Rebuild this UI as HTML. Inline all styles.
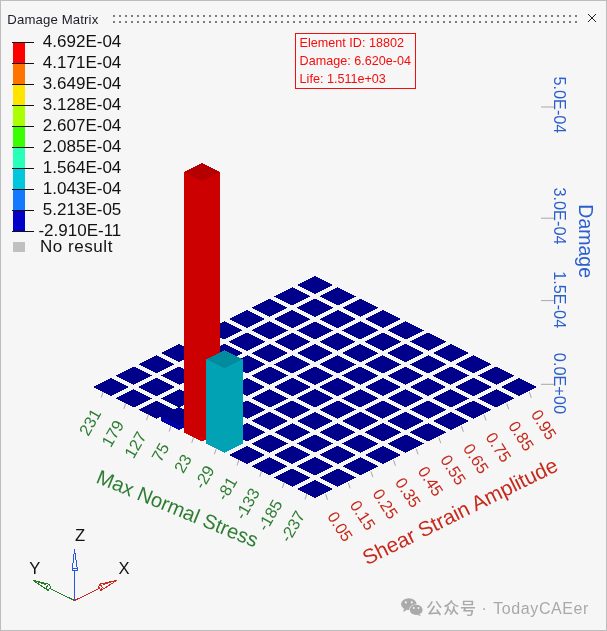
<!DOCTYPE html>
<html><head><meta charset="utf-8"><title>Damage Matrix</title>
<style>
html,body{margin:0;padding:0;background:#f6f6f6;}
body{width:607px;height:631px;overflow:hidden;position:relative;font-family:"Liberation Sans","Noto Sans CJK SC",sans-serif;}
svg{position:absolute;left:0;top:0;display:block;}
svg text{font-family:"Liberation Sans","Noto Sans CJK SC",sans-serif;}
.tk{font-size:16.4px;}
.zt{font-size:16.3px;}
.lg{font-size:17px;fill:#111;}
.nr{letter-spacing:0.55px;}
.tt{font-size:13.2px;fill:#1c1c2a;letter-spacing:0.13px;}
.tip{font-size:12.6px;fill:#f60c0c;}
.ax{font-size:16.6px;fill:#111;}
.wm{font-size:16px;fill:#a9a9a9;letter-spacing:0.35px;}
</style></head><body>
<svg width="607" height="631" viewBox="0 0 607 631">
<rect x="0" y="0" width="607" height="631" fill="#f6f6f6"/>
<rect x="0.5" y="0.5" width="606" height="630" fill="none" stroke="#bdbdbd" stroke-width="1"/>
<text class="tt" x="7.3" y="23.6">Damage Matrix</text>
<g fill="#7d7d7d" shape-rendering="crispEdges"><rect x="113" y="15" width="2" height="2"/><rect x="113" y="21" width="2" height="2"/><rect x="119" y="15" width="2" height="2"/><rect x="119" y="21" width="2" height="2"/><rect x="125" y="15" width="2" height="2"/><rect x="125" y="21" width="2" height="2"/><rect x="131" y="15" width="2" height="2"/><rect x="131" y="21" width="2" height="2"/><rect x="137" y="15" width="2" height="2"/><rect x="137" y="21" width="2" height="2"/><rect x="143" y="15" width="2" height="2"/><rect x="143" y="21" width="2" height="2"/><rect x="149" y="15" width="2" height="2"/><rect x="149" y="21" width="2" height="2"/><rect x="155" y="15" width="2" height="2"/><rect x="155" y="21" width="2" height="2"/><rect x="161" y="15" width="2" height="2"/><rect x="161" y="21" width="2" height="2"/><rect x="167" y="15" width="2" height="2"/><rect x="167" y="21" width="2" height="2"/><rect x="173" y="15" width="2" height="2"/><rect x="173" y="21" width="2" height="2"/><rect x="179" y="15" width="2" height="2"/><rect x="179" y="21" width="2" height="2"/><rect x="185" y="15" width="2" height="2"/><rect x="185" y="21" width="2" height="2"/><rect x="191" y="15" width="2" height="2"/><rect x="191" y="21" width="2" height="2"/><rect x="197" y="15" width="2" height="2"/><rect x="197" y="21" width="2" height="2"/><rect x="203" y="15" width="2" height="2"/><rect x="203" y="21" width="2" height="2"/><rect x="209" y="15" width="2" height="2"/><rect x="209" y="21" width="2" height="2"/><rect x="215" y="15" width="2" height="2"/><rect x="215" y="21" width="2" height="2"/><rect x="221" y="15" width="2" height="2"/><rect x="221" y="21" width="2" height="2"/><rect x="227" y="15" width="2" height="2"/><rect x="227" y="21" width="2" height="2"/><rect x="233" y="15" width="2" height="2"/><rect x="233" y="21" width="2" height="2"/><rect x="239" y="15" width="2" height="2"/><rect x="239" y="21" width="2" height="2"/><rect x="245" y="15" width="2" height="2"/><rect x="245" y="21" width="2" height="2"/><rect x="251" y="15" width="2" height="2"/><rect x="251" y="21" width="2" height="2"/><rect x="257" y="15" width="2" height="2"/><rect x="257" y="21" width="2" height="2"/><rect x="263" y="15" width="2" height="2"/><rect x="263" y="21" width="2" height="2"/><rect x="269" y="15" width="2" height="2"/><rect x="269" y="21" width="2" height="2"/><rect x="275" y="15" width="2" height="2"/><rect x="275" y="21" width="2" height="2"/><rect x="281" y="15" width="2" height="2"/><rect x="281" y="21" width="2" height="2"/><rect x="287" y="15" width="2" height="2"/><rect x="287" y="21" width="2" height="2"/><rect x="293" y="15" width="2" height="2"/><rect x="293" y="21" width="2" height="2"/><rect x="299" y="15" width="2" height="2"/><rect x="299" y="21" width="2" height="2"/><rect x="305" y="15" width="2" height="2"/><rect x="305" y="21" width="2" height="2"/><rect x="311" y="15" width="2" height="2"/><rect x="311" y="21" width="2" height="2"/><rect x="317" y="15" width="2" height="2"/><rect x="317" y="21" width="2" height="2"/><rect x="323" y="15" width="2" height="2"/><rect x="323" y="21" width="2" height="2"/><rect x="329" y="15" width="2" height="2"/><rect x="329" y="21" width="2" height="2"/><rect x="335" y="15" width="2" height="2"/><rect x="335" y="21" width="2" height="2"/><rect x="341" y="15" width="2" height="2"/><rect x="341" y="21" width="2" height="2"/><rect x="347" y="15" width="2" height="2"/><rect x="347" y="21" width="2" height="2"/><rect x="353" y="15" width="2" height="2"/><rect x="353" y="21" width="2" height="2"/><rect x="359" y="15" width="2" height="2"/><rect x="359" y="21" width="2" height="2"/><rect x="365" y="15" width="2" height="2"/><rect x="365" y="21" width="2" height="2"/><rect x="371" y="15" width="2" height="2"/><rect x="371" y="21" width="2" height="2"/><rect x="377" y="15" width="2" height="2"/><rect x="377" y="21" width="2" height="2"/><rect x="383" y="15" width="2" height="2"/><rect x="383" y="21" width="2" height="2"/><rect x="389" y="15" width="2" height="2"/><rect x="389" y="21" width="2" height="2"/><rect x="395" y="15" width="2" height="2"/><rect x="395" y="21" width="2" height="2"/><rect x="401" y="15" width="2" height="2"/><rect x="401" y="21" width="2" height="2"/><rect x="407" y="15" width="2" height="2"/><rect x="407" y="21" width="2" height="2"/><rect x="413" y="15" width="2" height="2"/><rect x="413" y="21" width="2" height="2"/><rect x="419" y="15" width="2" height="2"/><rect x="419" y="21" width="2" height="2"/><rect x="425" y="15" width="2" height="2"/><rect x="425" y="21" width="2" height="2"/><rect x="431" y="15" width="2" height="2"/><rect x="431" y="21" width="2" height="2"/><rect x="437" y="15" width="2" height="2"/><rect x="437" y="21" width="2" height="2"/><rect x="443" y="15" width="2" height="2"/><rect x="443" y="21" width="2" height="2"/><rect x="449" y="15" width="2" height="2"/><rect x="449" y="21" width="2" height="2"/><rect x="455" y="15" width="2" height="2"/><rect x="455" y="21" width="2" height="2"/><rect x="461" y="15" width="2" height="2"/><rect x="461" y="21" width="2" height="2"/><rect x="467" y="15" width="2" height="2"/><rect x="467" y="21" width="2" height="2"/><rect x="473" y="15" width="2" height="2"/><rect x="473" y="21" width="2" height="2"/><rect x="479" y="15" width="2" height="2"/><rect x="479" y="21" width="2" height="2"/><rect x="485" y="15" width="2" height="2"/><rect x="485" y="21" width="2" height="2"/><rect x="491" y="15" width="2" height="2"/><rect x="491" y="21" width="2" height="2"/><rect x="497" y="15" width="2" height="2"/><rect x="497" y="21" width="2" height="2"/><rect x="503" y="15" width="2" height="2"/><rect x="503" y="21" width="2" height="2"/><rect x="509" y="15" width="2" height="2"/><rect x="509" y="21" width="2" height="2"/><rect x="515" y="15" width="2" height="2"/><rect x="515" y="21" width="2" height="2"/><rect x="521" y="15" width="2" height="2"/><rect x="521" y="21" width="2" height="2"/><rect x="527" y="15" width="2" height="2"/><rect x="527" y="21" width="2" height="2"/><rect x="533" y="15" width="2" height="2"/><rect x="533" y="21" width="2" height="2"/><rect x="539" y="15" width="2" height="2"/><rect x="539" y="21" width="2" height="2"/><rect x="545" y="15" width="2" height="2"/><rect x="545" y="21" width="2" height="2"/><rect x="551" y="15" width="2" height="2"/><rect x="551" y="21" width="2" height="2"/><rect x="557" y="15" width="2" height="2"/><rect x="557" y="21" width="2" height="2"/><rect x="563" y="15" width="2" height="2"/><rect x="563" y="21" width="2" height="2"/><rect x="569" y="15" width="2" height="2"/><rect x="569" y="21" width="2" height="2"/><rect x="575" y="15" width="2" height="2"/><rect x="575" y="21" width="2" height="2"/></g>
<path d="M588 14 L596 22 M596 14 L588 22" stroke="#222" stroke-width="1" fill="none"/>
<g shape-rendering="crispEdges">
<rect x="13" y="42.0" width="12" height="21.0" fill="#ff0000"/><rect x="13" y="63.0" width="12" height="21.0" fill="#ff7300"/><rect x="13" y="84.0" width="12" height="21.0" fill="#ffe400"/><rect x="13" y="105.0" width="12" height="21.0" fill="#aaff00"/><rect x="13" y="126.0" width="12" height="21.0" fill="#39ff00"/><rect x="13" y="147.0" width="12" height="21.0" fill="#28ffb9"/><rect x="13" y="168.0" width="12" height="21.0" fill="#00c7dd"/><rect x="13" y="189.0" width="12" height="21.0" fill="#1579ff"/><rect x="13" y="210.0" width="12" height="21.0" fill="#0000c8"/>
</g>
<g>
<rect x="12" y="42.0" width="22" height="1" fill="#111"/><text class="lg" x="121.3" y="46.6" text-anchor="end">4.692E-04</text><rect x="12" y="63.0" width="22" height="1" fill="#111"/><text class="lg" x="121.3" y="67.6" text-anchor="end">4.171E-04</text><rect x="12" y="84.0" width="22" height="1" fill="#111"/><text class="lg" x="121.3" y="88.6" text-anchor="end">3.649E-04</text><rect x="12" y="105.0" width="22" height="1" fill="#111"/><text class="lg" x="121.3" y="109.6" text-anchor="end">3.128E-04</text><rect x="12" y="126.0" width="22" height="1" fill="#111"/><text class="lg" x="121.3" y="130.6" text-anchor="end">2.607E-04</text><rect x="12" y="147.0" width="22" height="1" fill="#111"/><text class="lg" x="121.3" y="151.6" text-anchor="end">2.085E-04</text><rect x="12" y="168.0" width="22" height="1" fill="#111"/><text class="lg" x="121.3" y="172.6" text-anchor="end">1.564E-04</text><rect x="12" y="189.0" width="22" height="1" fill="#111"/><text class="lg" x="121.3" y="193.6" text-anchor="end">1.043E-04</text><rect x="12" y="210.0" width="22" height="1" fill="#111"/><text class="lg" x="121.3" y="214.6" text-anchor="end">5.213E-05</text><rect x="12" y="231.0" width="22" height="1" fill="#111"/><text class="lg" x="121.3" y="235.6" text-anchor="end">-2.910E-11</text><rect x="13" y="242" width="12" height="10" fill="#c0c0c0"/><text class="lg nr" x="40" y="251.8">No result</text>
</g>
<g shape-rendering="crispEdges">
<polygon points="296.77,285.11 315.00,294.23 333.23,285.11 315.00,276.00" fill="#00008b"/>
<polygon points="274.13,296.43 292.36,305.55 310.58,296.43 292.36,287.32" fill="#00008b"/>
<polygon points="319.42,296.43 337.64,305.55 355.87,296.43 337.64,287.32" fill="#00008b"/>
<polygon points="251.49,307.75 269.72,316.87 287.94,307.75 269.72,298.64" fill="#00008b"/>
<polygon points="296.77,307.75 315.00,316.87 333.23,307.75 315.00,298.64" fill="#00008b"/>
<polygon points="342.06,307.75 360.28,316.87 378.51,307.75 360.28,298.64" fill="#00008b"/>
<polygon points="228.85,319.08 247.08,328.19 265.30,319.08 247.08,309.96" fill="#00008b"/>
<polygon points="274.13,319.08 292.36,328.19 310.58,319.08 292.36,309.96" fill="#00008b"/>
<polygon points="319.42,319.08 337.64,328.19 355.87,319.08 337.64,309.96" fill="#00008b"/>
<polygon points="364.70,319.08 382.92,328.19 401.15,319.08 382.92,309.96" fill="#00008b"/>
<polygon points="206.21,330.40 224.43,339.51 242.66,330.40 224.43,321.28" fill="#00008b"/>
<polygon points="251.49,330.40 269.72,339.51 287.94,330.40 269.72,321.28" fill="#00008b"/>
<polygon points="296.77,330.40 315.00,339.51 333.23,330.40 315.00,321.28" fill="#00008b"/>
<polygon points="342.06,330.40 360.28,339.51 378.51,330.40 360.28,321.28" fill="#00008b"/>
<polygon points="387.34,330.40 405.57,339.51 423.79,330.40 405.57,321.28" fill="#00008b"/>
<polygon points="183.57,341.72 201.79,350.83 220.02,341.72 201.79,332.60" fill="#00008b"/>
<polygon points="228.85,341.72 247.08,350.83 265.30,341.72 247.08,332.60" fill="#00008b"/>
<polygon points="274.13,341.72 292.36,350.83 310.58,341.72 292.36,332.60" fill="#00008b"/>
<polygon points="319.42,341.72 337.64,350.83 355.87,341.72 337.64,332.60" fill="#00008b"/>
<polygon points="364.70,341.72 382.92,350.83 401.15,341.72 382.92,332.60" fill="#00008b"/>
<polygon points="409.98,341.72 428.21,350.83 446.43,341.72 428.21,332.60" fill="#00008b"/>
<polygon points="160.92,353.04 179.15,362.15 197.38,353.04 179.15,343.92" fill="#00008b"/>
<polygon points="206.21,353.04 224.43,362.15 242.66,353.04 224.43,343.92" fill="#00008b"/>
<polygon points="251.49,353.04 269.72,362.15 287.94,353.04 269.72,343.92" fill="#00008b"/>
<polygon points="296.77,353.04 315.00,362.15 333.23,353.04 315.00,343.92" fill="#00008b"/>
<polygon points="342.06,353.04 360.28,362.15 378.51,353.04 360.28,343.92" fill="#00008b"/>
<polygon points="387.34,353.04 405.57,362.15 423.79,353.04 405.57,343.92" fill="#00008b"/>
<polygon points="432.62,353.04 450.85,362.15 469.08,353.04 450.85,343.92" fill="#00008b"/>
<polygon points="138.28,364.36 156.51,373.47 174.74,364.36 156.51,355.25" fill="#00008b"/>
<polygon points="183.57,364.36 201.79,373.47 220.02,364.36 201.79,355.25" fill="#00008b"/>
<polygon points="228.85,364.36 247.08,373.47 265.30,364.36 247.08,355.25" fill="#00008b"/>
<polygon points="274.13,364.36 292.36,373.47 310.58,364.36 292.36,355.25" fill="#00008b"/>
<polygon points="319.42,364.36 337.64,373.47 355.87,364.36 337.64,355.25" fill="#00008b"/>
<polygon points="364.70,364.36 382.92,373.47 401.15,364.36 382.92,355.25" fill="#00008b"/>
<polygon points="409.98,364.36 428.21,373.47 446.43,364.36 428.21,355.25" fill="#00008b"/>
<polygon points="455.26,364.36 473.49,373.47 491.72,364.36 473.49,355.25" fill="#00008b"/>
<polygon points="115.64,375.68 133.87,384.79 152.09,375.68 133.87,366.57" fill="#00008b"/>
<polygon points="160.92,375.68 179.15,384.79 197.38,375.68 179.15,366.57" fill="#00008b"/>
<polygon points="206.21,375.68 224.43,384.79 242.66,375.68 224.43,366.57" fill="#00008b"/>
<polygon points="251.49,375.68 269.72,384.79 287.94,375.68 269.72,366.57" fill="#00008b"/>
<polygon points="296.77,375.68 315.00,384.79 333.23,375.68 315.00,366.57" fill="#00008b"/>
<polygon points="342.06,375.68 360.28,384.79 378.51,375.68 360.28,366.57" fill="#00008b"/>
<polygon points="387.34,375.68 405.57,384.79 423.79,375.68 405.57,366.57" fill="#00008b"/>
<polygon points="432.62,375.68 450.85,384.79 469.08,375.68 450.85,366.57" fill="#00008b"/>
<polygon points="477.91,375.68 496.13,384.79 514.36,375.68 496.13,366.57" fill="#00008b"/>
<polygon points="93.00,387.00 111.23,396.11 129.45,387.00 111.23,377.89" fill="#00008b"/>
<polygon points="138.28,387.00 156.51,396.11 174.74,387.00 156.51,377.89" fill="#00008b"/>
<polygon points="183.57,387.00 201.79,396.11 220.02,387.00 201.79,377.89" fill="#00008b"/>
<polygon points="228.85,387.00 247.08,396.11 265.30,387.00 247.08,377.89" fill="#00008b"/>
<polygon points="274.13,387.00 292.36,396.11 310.58,387.00 292.36,377.89" fill="#00008b"/>
<polygon points="319.42,387.00 337.64,396.11 355.87,387.00 337.64,377.89" fill="#00008b"/>
<polygon points="364.70,387.00 382.92,396.11 401.15,387.00 382.92,377.89" fill="#00008b"/>
<polygon points="409.98,387.00 428.21,396.11 446.43,387.00 428.21,377.89" fill="#00008b"/>
<polygon points="455.26,387.00 473.49,396.11 491.72,387.00 473.49,377.89" fill="#00008b"/>
<polygon points="500.55,387.00 518.77,396.11 537.00,387.00 518.77,377.89" fill="#00008b"/>
<polygon points="115.64,398.32 133.87,407.43 152.09,398.32 133.87,389.21" fill="#00008b"/>
<polygon points="160.92,398.32 179.15,407.43 197.38,398.32 179.15,389.21" fill="#00008b"/>
<polygon points="206.21,398.32 224.43,407.43 242.66,398.32 224.43,389.21" fill="#00008b"/>
<polygon points="251.49,398.32 269.72,407.43 287.94,398.32 269.72,389.21" fill="#00008b"/>
<polygon points="296.77,398.32 315.00,407.43 333.23,398.32 315.00,389.21" fill="#00008b"/>
<polygon points="342.06,398.32 360.28,407.43 378.51,398.32 360.28,389.21" fill="#00008b"/>
<polygon points="387.34,398.32 405.57,407.43 423.79,398.32 405.57,389.21" fill="#00008b"/>
<polygon points="432.62,398.32 450.85,407.43 469.08,398.32 450.85,389.21" fill="#00008b"/>
<polygon points="477.91,398.32 496.13,407.43 514.36,398.32 496.13,389.21" fill="#00008b"/>
<polygon points="138.28,409.64 156.51,418.75 174.74,409.64 156.51,400.53" fill="#00008b"/>
<polygon points="183.57,409.64 201.79,418.75 220.02,409.64 201.79,400.53" fill="#00008b"/>
<polygon points="228.85,409.64 247.08,418.75 265.30,409.64 247.08,400.53" fill="#00008b"/>
<polygon points="274.13,409.64 292.36,418.75 310.58,409.64 292.36,400.53" fill="#00008b"/>
<polygon points="319.42,409.64 337.64,418.75 355.87,409.64 337.64,400.53" fill="#00008b"/>
<polygon points="364.70,409.64 382.92,418.75 401.15,409.64 382.92,400.53" fill="#00008b"/>
<polygon points="409.98,409.64 428.21,418.75 446.43,409.64 428.21,400.53" fill="#00008b"/>
<polygon points="455.26,409.64 473.49,418.75 491.72,409.64 473.49,400.53" fill="#00008b"/>
<polygon points="160.92,420.96 179.15,430.08 197.38,420.96 197.38,415.96 179.15,406.85 160.92,415.96" fill="#0000aa"/>
<polygon points="160.92,415.96 179.15,425.08 197.38,415.96 179.15,406.85" fill="#00008b"/>
<polygon points="206.21,420.96 224.43,430.08 242.66,420.96 224.43,411.85" fill="#00008b"/>
<polygon points="251.49,420.96 269.72,430.08 287.94,420.96 269.72,411.85" fill="#00008b"/>
<polygon points="296.77,420.96 315.00,430.08 333.23,420.96 315.00,411.85" fill="#00008b"/>
<polygon points="342.06,420.96 360.28,430.08 378.51,420.96 360.28,411.85" fill="#00008b"/>
<polygon points="387.34,420.96 405.57,430.08 423.79,420.96 405.57,411.85" fill="#00008b"/>
<polygon points="432.62,420.96 450.85,430.08 469.08,420.96 450.85,411.85" fill="#00008b"/>
<polygon points="183.57,432.28 201.79,441.40 220.02,432.28 220.02,171.98 201.79,162.87 183.57,171.98" fill="#cc0000"/>
<polygon points="183.57,171.98 201.79,181.10 220.02,171.98 201.79,162.87" fill="#b40000"/>
<polygon points="228.85,432.28 247.08,441.40 265.30,432.28 247.08,423.17" fill="#00008b"/>
<polygon points="274.13,432.28 292.36,441.40 310.58,432.28 292.36,423.17" fill="#00008b"/>
<polygon points="319.42,432.28 337.64,441.40 355.87,432.28 337.64,423.17" fill="#00008b"/>
<polygon points="364.70,432.28 382.92,441.40 401.15,432.28 382.92,423.17" fill="#00008b"/>
<polygon points="409.98,432.28 428.21,441.40 446.43,432.28 428.21,423.17" fill="#00008b"/>
<polygon points="206.21,443.60 224.43,452.72 242.66,443.60 242.66,359.30 224.43,350.19 206.21,359.30" fill="#00a2b4"/>
<polygon points="206.21,359.30 224.43,368.42 242.66,359.30 224.43,350.19" fill="#008c9c"/>
<polygon points="251.49,443.60 269.72,452.72 287.94,443.60 269.72,434.49" fill="#00008b"/>
<polygon points="296.77,443.60 315.00,452.72 333.23,443.60 315.00,434.49" fill="#00008b"/>
<polygon points="342.06,443.60 360.28,452.72 378.51,443.60 360.28,434.49" fill="#00008b"/>
<polygon points="387.34,443.60 405.57,452.72 423.79,443.60 405.57,434.49" fill="#00008b"/>
<polygon points="228.85,454.92 247.08,464.04 265.30,454.92 247.08,445.81" fill="#00008b"/>
<polygon points="274.13,454.92 292.36,464.04 310.58,454.92 292.36,445.81" fill="#00008b"/>
<polygon points="319.42,454.92 337.64,464.04 355.87,454.92 337.64,445.81" fill="#00008b"/>
<polygon points="364.70,454.92 382.92,464.04 401.15,454.92 382.92,445.81" fill="#00008b"/>
<polygon points="251.49,466.25 269.72,475.36 287.94,466.25 269.72,457.13" fill="#00008b"/>
<polygon points="296.77,466.25 315.00,475.36 333.23,466.25 315.00,457.13" fill="#00008b"/>
<polygon points="342.06,466.25 360.28,475.36 378.51,466.25 360.28,457.13" fill="#00008b"/>
<polygon points="274.13,477.57 292.36,486.68 310.58,477.57 292.36,468.45" fill="#00008b"/>
<polygon points="319.42,477.57 337.64,486.68 355.87,477.57 337.64,468.45" fill="#00008b"/>
<polygon points="296.77,488.89 315.00,498.00 333.23,488.89 315.00,479.77" fill="#00008b"/>
</g>
<g stroke="#a8a8a8" stroke-width="1" fill="none">
<line x1="103.11" y1="391.86" x2="101.19" y2="397.56"/><line x1="125.75" y1="403.18" x2="123.83" y2="408.88"/><line x1="148.40" y1="414.50" x2="146.48" y2="420.20"/><line x1="171.04" y1="425.82" x2="169.12" y2="431.52"/><line x1="193.68" y1="437.14" x2="191.76" y2="442.84"/><line x1="216.32" y1="448.46" x2="214.40" y2="454.16"/><line x1="238.96" y1="459.78" x2="237.04" y2="465.48"/><line x1="261.60" y1="471.10" x2="259.68" y2="476.80"/><line x1="284.25" y1="482.42" x2="282.33" y2="488.12"/><line x1="306.89" y1="493.74" x2="304.97" y2="499.44"/><line x1="325.61" y1="494.04" x2="327.53" y2="499.74"/><line x1="348.25" y1="482.72" x2="350.17" y2="488.42"/><line x1="370.90" y1="471.40" x2="372.82" y2="477.10"/><line x1="393.54" y1="460.08" x2="395.46" y2="465.78"/><line x1="416.18" y1="448.76" x2="418.10" y2="454.46"/><line x1="438.82" y1="437.44" x2="440.74" y2="443.14"/><line x1="461.46" y1="426.12" x2="463.38" y2="431.82"/><line x1="484.10" y1="414.80" x2="486.02" y2="420.50"/><line x1="506.75" y1="403.48" x2="508.67" y2="409.18"/><line x1="529.39" y1="392.16" x2="531.31" y2="397.86"/><line x1="541" y1="107.0" x2="555" y2="107.0"/><line x1="541" y1="218.2" x2="555" y2="218.2"/><line x1="541" y1="300.6" x2="555" y2="300.6"/><line x1="541" y1="384.3" x2="555" y2="384.3"/>
</g>
<text class="tk" fill="#2e7d32" text-anchor="end" transform="translate(96.91,410.36) rotate(-60)" y="5.7">231</text>
<text class="tk" fill="#2e7d32" text-anchor="end" transform="translate(119.55,421.68) rotate(-60)" y="5.7">179</text>
<text class="tk" fill="#2e7d32" text-anchor="end" transform="translate(142.20,433.00) rotate(-60)" y="5.7">127</text>
<text class="tk" fill="#2e7d32" text-anchor="end" transform="translate(164.84,444.32) rotate(-60)" y="5.7">75</text>
<text class="tk" fill="#2e7d32" text-anchor="end" transform="translate(187.48,455.64) rotate(-60)" y="5.7">23</text>
<text class="tk" fill="#2e7d32" text-anchor="end" transform="translate(210.12,466.96) rotate(-60)" y="5.7">-29</text>
<text class="tk" fill="#2e7d32" text-anchor="end" transform="translate(232.76,478.28) rotate(-60)" y="5.7">-81</text>
<text class="tk" fill="#2e7d32" text-anchor="end" transform="translate(255.40,489.60) rotate(-60)" y="5.7">-133</text>
<text class="tk" fill="#2e7d32" text-anchor="end" transform="translate(278.05,500.92) rotate(-60)" y="5.7">-185</text>
<text class="tk" fill="#2e7d32" text-anchor="end" transform="translate(300.69,512.24) rotate(-60)" y="5.7">-237</text>
<text class="tk" fill="#c62a1c" transform="translate(331.41,513.11) rotate(57)" y="5.7">0.05</text>
<text class="tk" fill="#c62a1c" transform="translate(354.05,501.79) rotate(57)" y="5.7">0.15</text>
<text class="tk" fill="#c62a1c" transform="translate(376.70,490.47) rotate(57)" y="5.7">0.25</text>
<text class="tk" fill="#c62a1c" transform="translate(399.34,479.15) rotate(57)" y="5.7">0.35</text>
<text class="tk" fill="#c62a1c" transform="translate(421.98,467.83) rotate(57)" y="5.7">0.45</text>
<text class="tk" fill="#c62a1c" transform="translate(444.62,456.51) rotate(57)" y="5.7">0.55</text>
<text class="tk" fill="#c62a1c" transform="translate(467.26,445.19) rotate(57)" y="5.7">0.65</text>
<text class="tk" fill="#c62a1c" transform="translate(489.90,433.87) rotate(57)" y="5.7">0.75</text>
<text class="tk" fill="#c62a1c" transform="translate(512.55,422.55) rotate(57)" y="5.7">0.85</text>
<text class="tk" fill="#c62a1c" transform="translate(535.19,411.23) rotate(57)" y="5.7">0.95</text>
<text class="zt" fill="#2b5fcf" text-anchor="middle" transform="translate(553.5,104.9) rotate(90)">5.0E-04</text>
<text class="zt" fill="#2b5fcf" text-anchor="middle" transform="translate(553.5,216.0) rotate(90)">3.0E-04</text>
<text class="zt" fill="#2b5fcf" text-anchor="middle" transform="translate(553.5,299.7) rotate(90)">1.5E-04</text>
<text class="zt" fill="#2b5fcf" text-anchor="middle" transform="translate(553.5,383.4) rotate(90)">0.0E+00</text>
<text fill="#2b5fcf" font-size="19.5" text-anchor="middle" transform="translate(578.5,241.2) rotate(90)">Damage</text>
<text fill="#2e7d32" font-size="20.3" transform="translate(95,482.2) rotate(22.3)">Max Normal Stress</text>
<text fill="#c62a1c" font-size="21" transform="translate(367,565.5) rotate(-26.4)">Shear Strain Amplitude</text>
<rect x="295.5" y="33.5" width="120" height="55" fill="none" stroke="#f01010" stroke-width="1"/>
<text class="tip" x="299.6" y="46.5">Element ID: 18802</text>
<text class="tip" x="299.6" y="64.6">Damage: 6.620e-04</text>
<text class="tip" x="299.6" y="82.7">Life: 1.511e+03</text>
<!-- triad -->
<g fill="none" stroke-width="1" shape-rendering="crispEdges">
<path d="M74.5 600.5 L74.5 570.5" stroke="#2a55e0"/>
<path d="M74.5 549 L72.5 568 L72.5 570.5 L77 570.5 L77 567 Z M72.5 568 L77 568" stroke="#2a55e0" fill="#f6f6f6"/>
<path d="M74.5 600.5 L99 588.6" stroke="#cc2a20"/>
<path d="M116.8 580.4 L100.1 584.1 L98.4 586.7 L101 590.5 Z M100.1 584.1 L102.4 587.3 L101 590.5 M116.8 580.4 L103 584.5" stroke="#cc2a20" fill="#f6f6f6"/>
<path d="M74.5 600.5 L50.2 588.6" stroke="#2a7a2a"/>
<path d="M33.1 580.4 L48.6 584.1 L50.7 587 L48.1 590.5 Z M48.6 584.1 L46 587.9 L48.1 590.5 M33.1 580.4 L46 584.5" stroke="#2a7a2a" fill="#f6f6f6"/>
</g>
<text class="ax" x="74.9" y="541">Z</text>
<text class="ax" x="29.3" y="573.6">Y</text>
<text class="ax" x="118.5" y="573.6">X</text>
<!-- watermark -->
<g fill="#aaaaaa">
<ellipse cx="408.8" cy="604.1" rx="7.8" ry="5.9"/>
<path d="M404 608.5 L403.2 612 L407.5 609.6 Z"/>
<ellipse cx="416.2" cy="609.9" rx="7" ry="5.7" fill="#f6f6f6"/>
<ellipse cx="416.2" cy="609.9" rx="6.4" ry="5.1"/>
<path d="M419 614 L421.3 616.3 L416.5 614.8 Z"/>
</g>
<g fill="#f6f6f6">
<circle cx="405.8" cy="602.4" r="1.05"/><circle cx="411.8" cy="602.4" r="1.05"/>
<circle cx="413.8" cy="608" r="0.9"/><circle cx="418.5" cy="608" r="0.9"/>
</g>
<text class="wm" x="426.3" y="613.5" style="letter-spacing:0.9px;font-weight:500">公众号</text>
<text class="wm" x="481.5" y="613.5">·</text>
<text class="wm" x="493.2" y="613.5" style="letter-spacing:0.6px">TodayCAEer</text>
</svg>
</body></html>
